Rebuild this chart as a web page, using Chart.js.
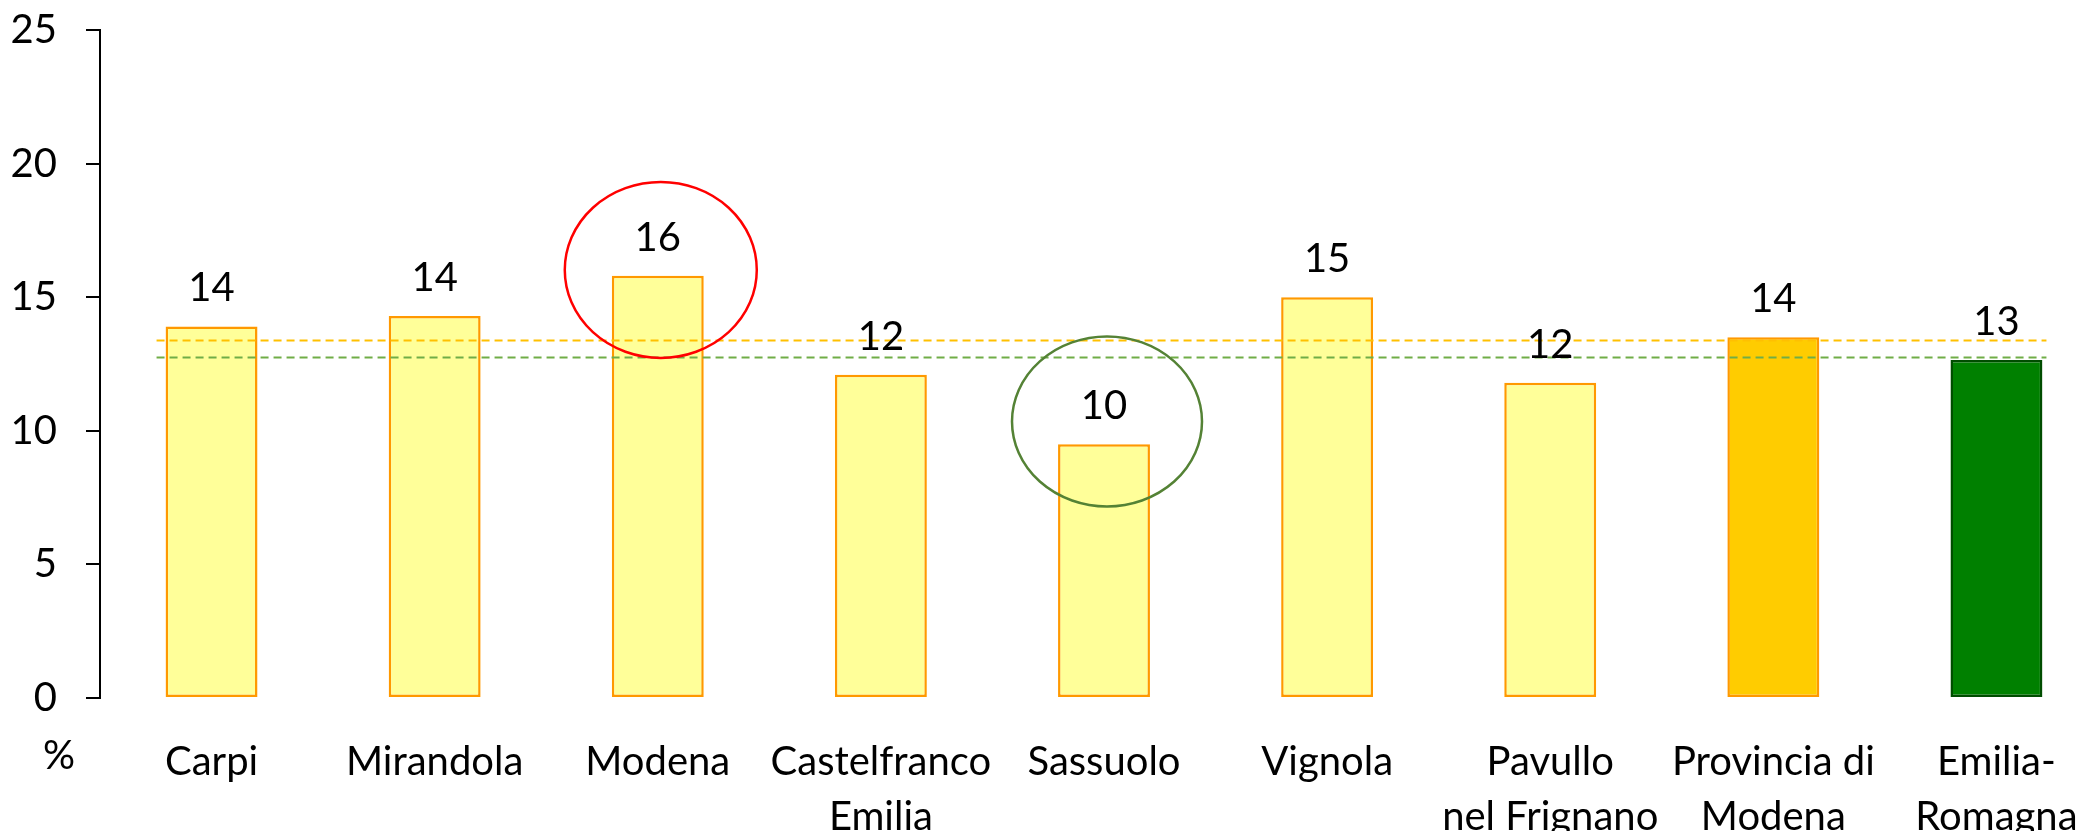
<!DOCTYPE html>
<html>
<head>
<meta charset="utf-8">
<script src="https://cdn.jsdelivr.net/npm/chart.js@4/dist/chart.umd.min.js"></script>
<style>
  html, body { margin: 0; padding: 0; background: #fff; overflow: hidden; }
  #wrap { width: 2108px; height: 831px; }
</style>
</head>
<body>
<div id="wrap"><canvas id="c" width="2108" height="831"></canvas></div>
<script>
// ---- data ----
const categories = [
  'Carpi', 'Mirandola', 'Modena', ['Castelfranco', 'Emilia'], 'Sassuolo',
  'Vignola', ['Pavullo', 'nel Frignano'], ['Provincia di', 'Modena'], ['Emilia-', 'Romagna']
];
const values = [13.9, 14.3, 15.8, 12.1, 9.5, 15.0, 11.8, 13.5, 12.65];
const valueLabels = ['14', '14', '16', '12', '10', '15', '12', '14', '13'];
const provinciaRef = 13.4;   // dashed orange line
const regioneRef = 12.75;    // dashed green line
const yTicks = [0, 5, 10, 15, 20, 25];
const highlightHigh = 2;     // index circled in red
const highlightLow = 4;      // index circled in green
const unitLabel = '%';

// ---- styles ----
const FONT = 'Lato';
const barFill = values.map((v, i) => i === 7 ? '#FFCC00' : (i === 8 ? '#008000' : '#FFFF99'));
const barBorder = values.map((v, i) => i === 8 ? '#004D00' : '#FF9900');

const overlay = {
  id: 'overlay',
  afterDatasetsDraw(chart) {
    const ctx = chart.ctx;
    const xs = chart.scales.x, ys = chart.scales.y;
    const x0 = xs.getPixelForValue(0) - 55;
    const x1 = xs.getPixelForValue(categories.length - 1) + 50;
    ctx.save();
    ctx.lineWidth = 2;
    ctx.setLineDash([8, 5]);
    [[provinciaRef, '#FFC000'], [regioneRef, '#70AD47']].forEach(([v, col]) => {
      const y = Math.round(ys.getPixelForValue(v)) + 0.5;
      ctx.strokeStyle = col;
      ctx.beginPath(); ctx.moveTo(x0, y); ctx.lineTo(x1, y); ctx.stroke();
    });
    ctx.setLineDash([]);
    // value labels
    ctx.fillStyle = '#000';
    ctx.font = '40px ' + FONT;
    ctx.textAlign = 'center';
    ctx.textBaseline = 'middle';
    const meta = chart.getDatasetMeta(0);
    meta.data.forEach((bar, i) => {
      ctx.fillText(valueLabels[i], bar.x, bar.y - 38);
    });
    // highlight ellipses
    const ell = (idx, cv, rx, ry, col) => {
      ctx.strokeStyle = col; ctx.lineWidth = 2.5;
      ctx.beginPath();
      ctx.ellipse(xs.getPixelForValue(idx) + 3, ys.getPixelForValue(cv), rx, ry, 0, 0, Math.PI * 2);
      ctx.stroke();
    };
    ell(highlightHigh, values[highlightHigh] + 0.22, 96, 88, '#FF0000');
    ell(highlightLow, values[highlightLow] + 0.85, 95, 85, '#548235');
    // unit label
    ctx.font = '40px ' + FONT;
    ctx.fillText(unitLabel, 59, xs.top + 58);
    ctx.restore();
  }
};

new Chart(document.getElementById('c'), {
  type: 'bar',
  data: {
    labels: categories,
    datasets: [{
      data: values,
      backgroundColor: barFill,
      borderColor: barBorder,
      borderWidth: 2.5,
      borderSkipped: false,
      barPercentage: 1,
      categoryPercentage: 0.412
    }]
  },
  options: {
    responsive: false,
    animation: false,
    layout: { padding: { top: 30, left: 0, right: 0, bottom: 0 } },
    plugins: { legend: { display: false }, tooltip: { enabled: false } },
    scales: {
      x: {
        grid: { display: false },
        border: { display: false },
        ticks: {
          color: '#000', font: { family: FONT, size: 40, lineHeight: 1.38 },
          padding: 28, maxRotation: 0, autoSkip: false
        },
        afterFit(s) { s.height = 133; s.paddingLeft = 0; s.paddingRight = 0; }
      },
      y: {
        min: 0, max: 25,
        afterBuildTicks(s) { s.ticks = yTicks.map(v => ({ value: v })); },
        ticks: { color: '#000', font: { family: FONT, size: 40 }, padding: 29 },
        grid: { drawOnChartArea: false, drawTicks: true, tickLength: 14, color: '#000', lineWidth: 2 },
        border: { display: true, color: '#000', width: 2 },
        afterFit(s) { s.width = 100; s.paddingTop = 0; s.paddingBottom = 0; }
      }
    }
  },
  plugins: [overlay]
});
</script>
</body>
</html>
